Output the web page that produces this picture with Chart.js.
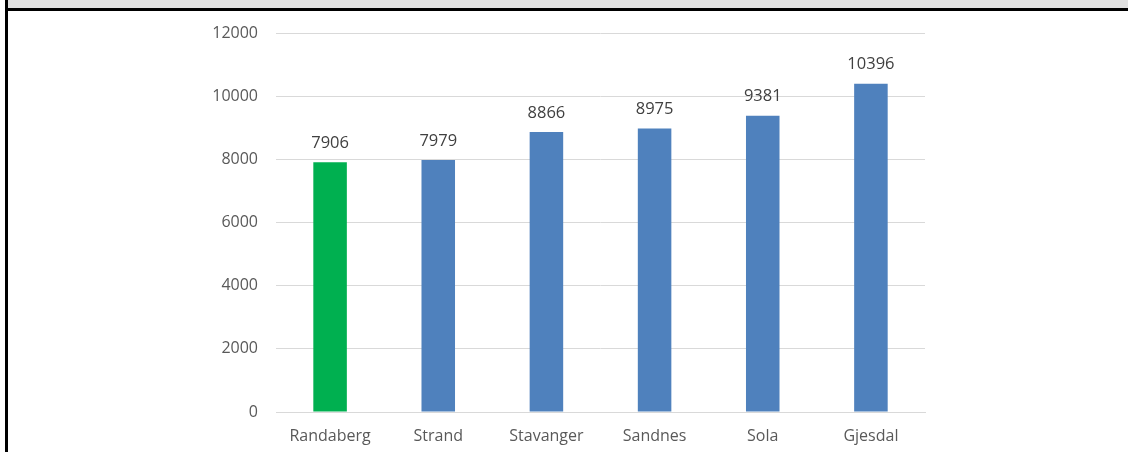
<!DOCTYPE html>
<html>
<head>
<meta charset="utf-8">
<script src="https://cdn.jsdelivr.net/npm/chart.js@4/dist/chart.umd.min.js"></script>
<style>
  html, body { margin: 0; padding: 0; background: #ffffff; }
  #frame { position: relative; width: 1128px; height: 452px; overflow: hidden; }
  #band { position: absolute; left: 8px; top: 0; width: 1120px; height: 8px; background: #e0e0e0; }
  #hline { position: absolute; left: 5px; top: 8px; width: 1123px; height: 3px; background: #000; }
  #vline { position: absolute; left: 5px; top: 0; width: 3px; height: 452px; background: #000; }
  canvas { position: absolute; left: 0; top: 0; }
</style>
</head>
<body>
<div id="frame">
  <div id="band"></div>
  <div id="hline"></div>
  <div id="vline"></div>
  <canvas id="c" width="1128" height="452"></canvas>
</div>
<script>
// Municipalities and their values
const categories = ['Randaberg', 'Strand', 'Stavanger', 'Sandnes', 'Sola', 'Gjesdal'];
const values = [7906, 7979, 8866, 8975, 9381, 10396];
const barColors = ['#00b050', '#4f81bd', '#4f81bd', '#4f81bd', '#4f81bd', '#4f81bd'];
const yTicks = [0, 2000, 4000, 6000, 8000, 10000, 12000];

const FONT = '"Open Sans", Lato, sans-serif';

// Writes each bar's value just above it
const valueLabels = {
  id: 'valueLabels',
  afterDatasetsDraw(chart) {
    const ctx = chart.ctx;
    const meta = chart.getDatasetMeta(0);
    ctx.save();
    ctx.font = '16.5px ' + FONT;
    ctx.fillStyle = '#404040';
    ctx.textAlign = 'center';
    ctx.textBaseline = 'middle';
    meta.data.forEach((bar, i) => {
      ctx.fillText(String(values[i]), bar.x, bar.y - 19);
    });
    ctx.restore();
  }
};

new Chart(document.getElementById('c'), {
  type: 'bar',
  data: {
    labels: categories,
    datasets: [{
      data: values,
      backgroundColor: barColors,
      borderWidth: 0,
      categoryPercentage: 1.0,
      barPercentage: 0.31
    }]
  },
  options: {
    responsive: false,
    animation: false,
    layout: { padding: { left: 0, right: 203, top: 33, bottom: 0 } },
    plugins: { legend: { display: false }, tooltip: { enabled: false } },
    scales: {
      x: {
        grid: { display: false, drawTicks: false },
        border: { display: true, color: '#d9d9d9', width: 1 },
        ticks: { color: '#595959', font: { family: FONT, size: 16 }, padding: 15, maxRotation: 0 },
        afterFit(scale) { scale.height = 40; }
      },
      y: {
        min: 0,
        max: 12000,
        afterBuildTicks(scale) { scale.ticks = yTicks.map(v => ({ value: v })); },
        grid: { color: '#d9d9d9', lineWidth: 1, drawTicks: false },
        border: { display: false },
        ticks: {
          color: '#595959',
          font: { family: FONT, size: 16 },
          padding: 18,
          callback: (v) => String(v)
        },
        afterFit(scale) { scale.width = 276; }
      }
    }
  },
  plugins: [valueLabels]
});
</script>
</body>
</html>
